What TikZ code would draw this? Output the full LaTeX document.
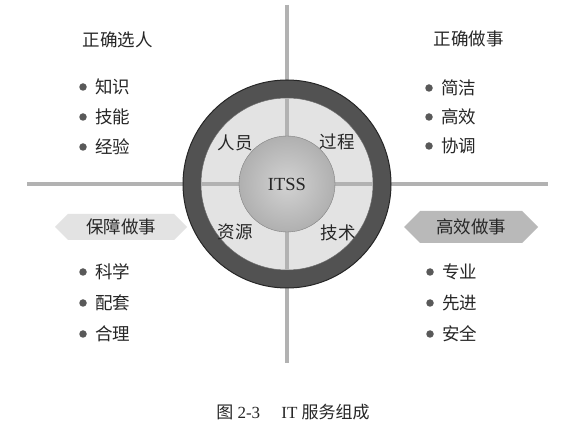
\documentclass[tikz,border=0pt]{standalone}
\usepackage{fontspec}
\setmainfont{Liberation Serif}
\newfontfamily\cjk{Noto Sans CJK SC}
\usetikzlibrary{positioning,shapes.symbols}

\begin{document}
\begin{tikzpicture}[
	x = 1pt, y = -1pt,
	node distance = 8pt,
	every node/.style = {
		font = \cjk\fontsize{17.5}{20}\selectfont,
		text = black!85
	},
	axis/.style = {
		draw = gray!60,
		line width = 3.5pt
	},
	dot/.style = {
		circle,
		fill = black!65,
		inner sep = 0pt,
		minimum size = 7.5pt
	},
	item/.style = {
		inner sep = 0pt
	},
	tag/.style = {
		signal,
		signal to = west and east,
		inner sep = 0pt,
		minimum width = 132pt
	}
	]

	\useasboundingbox (0,0) rectangle (562,435);
	\fill[white] (0,0) rectangle (562,435);

	% cross
	\coordinate (west_end) at (27,184);
	\coordinate (east_end) at (548,184);
	\coordinate (north_end) at (287,5);
	\coordinate (south_end) at (287,363);
	\draw[axis] (west_end) -- (east_end);
	\draw[axis] (north_end) -- (south_end);

	% circles
	\node (ring) [circle, draw=black!85, line width=1pt, fill=black!68, minimum size=208pt] at (287,184) {};
	\node (disk) [circle, draw=black!60, fill=gray!22, minimum size=172pt] at (ring.center) {};
	\draw[axis] (disk.west) -- (disk.east);
	\draw[axis] (disk.north) -- (disk.south);
	\node (core) [circle, draw=black!50, inner color=gray!35, outer color=gray!62, minimum size=96pt,
		font=\rmfamily\fontsize{18.5}{20}\selectfont] at (ring.center) {ITSS};

	\node (people) at (235,143) {人员};
	\node (process) at (337,142) {过程};
	\node (resource) at (235,232) {资源};
	\node (tech) at (338,233) {技术};

	% top left
	\node (title_tl) [anchor=west] at (79,40) {正确选人};
	\node (dot_1) [dot] at (83,87) {};
	\node (know) [item, right = of dot_1] {知识};
	\node (dot_2) [dot] at (83,117) {};
	\node (skill) [item, right = of dot_2] {技能};
	\node (dot_3) [dot] at (83,147) {};
	\node (exp) [item, right = of dot_3] {经验};

	% top right
	\node (title_tr) [anchor=west] at (430,39) {正确做事};
	\node (dot_4) [dot] at (429,88) {};
	\node (simple) [item, right = of dot_4] {简洁};
	\node (dot_5) [dot] at (429,117) {};
	\node (fast) [item, right = of dot_5] {高效};
	\node (dot_6) [dot] at (429,146) {};
	\node (coop) [item, right = of dot_6] {协调};

	% tags
	\node (support) [tag, fill=gray!22, minimum height=26pt] at (121,227) {保障做事};
	\node (effic) [tag, fill=gray!55, minimum height=32pt, minimum width=134pt] at (471,227) {高效做事};

	% bottom left
	\node (dot_7) [dot] at (83,272) {};
	\node (science) [item, right = of dot_7] {科学};
	\node (dot_8) [dot] at (83,303) {};
	\node (match) [item, right = of dot_8] {配套};
	\node (dot_9) [dot] at (83,334) {};
	\node (reason) [item, right = of dot_9] {合理};

	% bottom right
	\node (dot_10) [dot] at (430,272) {};
	\node (pro) [item, right = of dot_10] {专业};
	\node (dot_11) [dot] at (430,303) {};
	\node (adv) [item, right = of dot_11] {先进};
	\node (dot_12) [dot] at (430,334) {};
	\node (safe) [item, right = of dot_12] {安全};

	\node (caption) [font=\rmfamily\fontsize{17}{18}\selectfont] at (293,412) {{\cjk 图}~2-3\quad\ IT {\cjk 服务组成}};

\end{tikzpicture}
\end{document}
